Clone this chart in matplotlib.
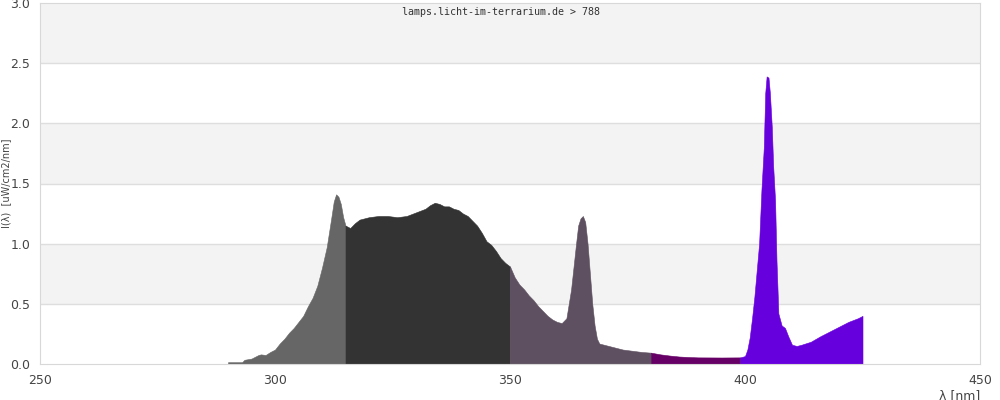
import matplotlib
matplotlib.use("Agg")
import matplotlib.pyplot as plt
import numpy as np

# Spektrum
wellenlaenge = [
    290.0, 293.0, 293.5, 295.0, 296.5, 297.0, 298.0, 299.0, 300.0, 301.0,
    302.0, 303.0, 304.0, 305.0, 306.0, 307.0, 308.0, 309.0, 310.0, 311.0,
    312.0, 312.5, 313.0, 313.5, 314.0, 314.5, 315.0, 316.0, 317.0, 318.0,
    319.0, 320.0, 322.0, 324.0, 326.0, 328.0, 330.0, 332.0, 333.0, 334.0,
    335.0, 336.0, 337.0, 338.0, 339.0, 340.0, 341.0, 342.0, 343.0, 344.0,
    345.0, 346.0, 347.0, 348.0, 349.0, 350.0, 351.0, 352.0, 353.0, 354.0,
    355.0, 356.0, 357.0, 358.0, 359.0, 360.0, 361.0, 362.0, 363.0, 364.0,
    364.5, 365.0, 365.5, 366.0, 366.5, 367.0, 367.5, 368.0, 368.5, 369.0,
    370.0, 372.0, 374.0, 376.0, 378.0, 380.0, 382.0, 384.0, 386.0, 388.0,
    390.0, 395.0, 399.0, 400.0, 400.5, 401.0, 401.5, 402.0, 402.5, 403.0,
    403.5, 404.0, 404.3, 404.6, 405.0, 405.3, 405.7, 406.0, 406.4, 406.7,
    407.1, 407.8, 408.5, 409.2, 410.0, 411.0, 412.0, 414.0, 416.0, 418.0,
    420.0, 422.0, 424.0, 425.0,
]
intensitaet = [
    0.015, 0.015, 0.035, 0.045, 0.075, 0.08, 0.075, 0.10, 0.12, 0.17,
    0.21, 0.26, 0.30, 0.35, 0.40, 0.48, 0.55, 0.65, 0.80, 0.97,
    1.22, 1.35, 1.41, 1.39, 1.33, 1.22, 1.15, 1.13, 1.17, 1.20,
    1.21, 1.22, 1.23, 1.23, 1.22, 1.23, 1.26, 1.29, 1.32, 1.34,
    1.33, 1.31, 1.31, 1.29, 1.28, 1.25, 1.23, 1.19, 1.15, 1.09,
    1.02, 0.99, 0.94, 0.88, 0.84, 0.81, 0.72, 0.66, 0.62, 0.57,
    0.53, 0.48, 0.44, 0.40, 0.37, 0.35, 0.34, 0.38, 0.62, 0.98,
    1.15, 1.21, 1.23, 1.18, 1.00, 0.75, 0.50, 0.32, 0.21, 0.17,
    0.16, 0.14, 0.12, 0.11, 0.10, 0.094, 0.08, 0.07, 0.062, 0.058,
    0.055, 0.054, 0.055, 0.066, 0.12, 0.22, 0.38, 0.56, 0.78, 1.00,
    1.45, 1.80, 2.25, 2.39, 2.38, 2.25, 1.97, 1.64, 1.36, 0.86,
    0.42, 0.32, 0.30, 0.23, 0.16, 0.15, 0.16, 0.185, 0.23, 0.27,
    0.31, 0.35, 0.38, 0.40,
]

# Bereiche mit ihren Farben
bereich_grenzen = [(290, 315), (315, 350), (350, 380), (380, 399), (399, 425)]
bereich_farben = ["#666666", "#333333", "#5e5060", "#660066", "#6600dd"]

x_ticks = [250, 300, 350, 400, 450]
y_ticks = [0.0, 0.5, 1.0, 1.5, 2.0, 2.5, 3.0]

wl = np.array(wellenlaenge)
val = np.array(intensitaet)

fig = plt.figure(figsize=(10, 4), dpi=100)
ax = fig.add_axes([0.04, 0.09, 0.94, 0.9025])

# graue Streifen im Hintergrund
for i in range(len(y_ticks) - 1):
    if i % 2 == 1:
        ax.axhspan(y_ticks[i], y_ticks[i + 1], color="#f3f3f3", zorder=0, lw=0)
for y in y_ticks[1:-1]:
    ax.axhline(y, color="#dedede", lw=1, zorder=1)

for (lo, hi), farbe in zip(bereich_grenzen, bereich_farben):
    m = (wl >= lo) & (wl <= hi)
    ax.fill_between(wl[m], 0, val[m], facecolor=farbe, edgecolor=farbe,
                    lw=0.4, zorder=2)

ax.set_xlim(250, 450)
ax.set_ylim(0, 3.0)
ax.set_xticks(x_ticks)
ax.set_yticks(y_ticks)
ax.set_yticklabels([f"{t:.1f}" for t in y_ticks])
ax.tick_params(length=0, labelsize=9, colors="#444444", pad=7)
for s in ax.spines.values():
    s.set_color("#d8d8d8")

fig.text(0.006, 0.5425, "I(λ)  [uW/cm2/nm]", rotation=90, ha="center",
         va="center", fontsize=7, color="#444444")
fig.text(0.98, 0.012, "λ [nm]", ha="right", va="center", fontsize=9,
         color="#444444")
fig.text(0.501, 0.97, "lamps.licht-im-terrarium.de > 788", ha="center",
         va="center", fontsize=7.2, family="DejaVu Sans Mono", color="#333333")

fig.savefig("out.png", dpi=100)
